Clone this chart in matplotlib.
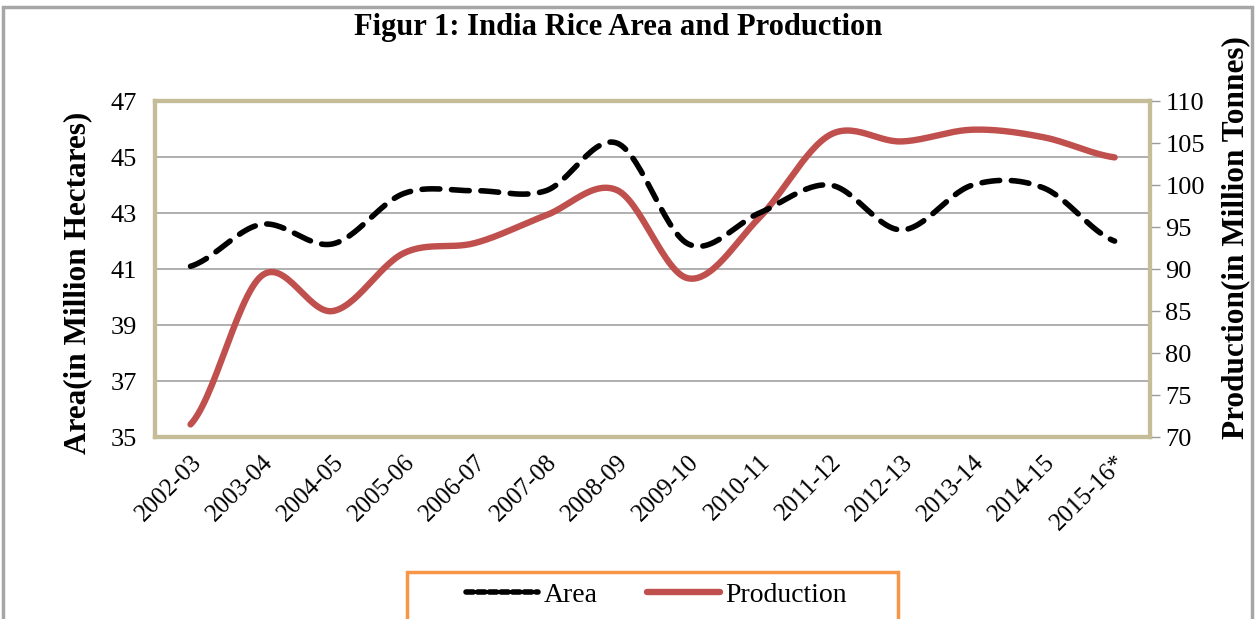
import numpy as np
import matplotlib.pyplot as plt
import matplotlib.transforms as mtransforms
from matplotlib.lines import Line2D
from matplotlib.patches import Rectangle

# Data
years = ['2002-03', '2003-04', '2004-05', '2005-06', '2006-07', '2007-08', '2008-09',
         '2009-10', '2010-11', '2011-12', '2012-13', '2013-14', '2014-15', '2015-16*']
area = [41.1, 42.6, 41.9, 43.7, 43.8, 43.8, 45.5, 41.9, 43.0, 44.0, 42.4, 44.0, 43.9, 42.0]
production = [71.5, 89.2, 85.0, 91.9, 93.1, 96.4, 99.4, 88.9, 96.1, 106.0, 105.2, 106.6, 105.7, 103.3]

plt.rcParams['font.family'] = ['Liberation Serif', 'DejaVu Serif']


# Excel-like smoothed line (Catmull-Rom through the points)
def smooth(y, n=30):
    y = np.asarray(y, dtype=float)
    p = np.concatenate([[y[0]], y, [y[-1]]])
    xs, ys = [], []
    for i in range(len(y) - 1):
        p0, p1, p2, p3 = p[i], p[i + 1], p[i + 2], p[i + 3]
        t = np.linspace(0, 1, n, endpoint=False)
        v = 0.5 * ((2 * p1) + (-p0 + p2) * t + (2 * p0 - 5 * p1 + 4 * p2 - p3) * t ** 2
                   + (-p0 + 3 * p1 - 3 * p2 + p3) * t ** 3)
        xs.append(i + t)
        ys.append(v)
    xs.append([len(y) - 1])
    ys.append([y[-1]])
    return np.concatenate(xs), np.concatenate(ys)


fig = plt.figure(figsize=(12.57, 6.19), dpi=100)
ax = fig.add_axes([0.1233, 0.294, 0.7917, 0.5426])
ax2 = ax.twinx()
ax.set_zorder(2)
ax.patch.set_visible(False)
ax2.set_zorder(1)

x = np.arange(len(years))
ax.set_xlim(-0.5, len(years) - 0.5)
ax.set_ylim(35, 47)
ax.set_yticks(np.arange(35, 48, 2))
ax2.set_ylim(70, 110)
ax2.set_yticks(np.arange(70, 111, 5))

# gridlines from left axis, drawn beneath the lines
blend = mtransforms.blended_transform_factory(ax2.transAxes, ax.transData)
ax2.hlines(ax.get_yticks()[1:], 0, 1, transform=blend, color='#9a9a9a', lw=1.1, zorder=0)

sx, sy = smooth(production)
ax2.plot(sx, sy, color='#C0504D', lw=4.6, solid_capstyle='round', zorder=3)
sx, sy = smooth(area)
ax.plot(sx, sy, color='black', lw=4.0, linestyle=(0, (3.2, 2.1)),
        dash_capstyle='round', zorder=3)

for a in (ax, ax2):
    for s in a.spines.values():
        s.set_color('#C4BD97')
        s.set_linewidth(3)

ax.set_xticks(x)
ax.set_xticklabels(years, rotation=45, ha='right', rotation_mode='anchor', fontsize=18)
ax.tick_params(axis='x', length=0, pad=10)
ax.tick_params(axis='y', length=0, pad=13, labelsize=19)
ax2.tick_params(axis='y', length=7, width=1, color='#9a9a9a', pad=4, labelsize=19)

ax.set_ylabel('Area(in Million Hectares)', fontsize=22.5, fontweight='bold')
ax.yaxis.set_label_coords(-0.063, 0.46)
ax2.set_ylabel('Production(in Million Tonnes)', fontsize=22.5, fontweight='bold')
ax2.yaxis.set_label_coords(1.071, 0.595)

fig.text(0.492, 0.956, 'Figur 1: India Rice Area and Production', ha='center', va='center',
         fontsize=22, fontweight='bold')

# outer chart border and legend box
fig.patches.append(Rectangle((0.002, -0.1), 0.994, 1.088, transform=fig.transFigure,
                             fill=False, edgecolor='#A6A6A6', lw=2.5))
fig.patches.append(Rectangle((0.3238, -0.05), 0.3906, 0.126, transform=fig.transFigure,
                             fill=False, edgecolor='#F79646', lw=2.5))

handles = [Line2D([], [], color='black', lw=4.0, linestyle=(0, (1.3, 0.8)), dash_capstyle='round'),
           Line2D([], [], color='#C0504D', lw=4.6, solid_capstyle='round')]
fig.legend(handles, ['Area', 'Production'], loc='center', bbox_to_anchor=(0.522, 0.039),
           ncol=2, frameon=False, fontsize=20, handlelength=2.6, handletextpad=0.2,
           columnspacing=1.8)

fig.savefig('out.png', dpi=100)
